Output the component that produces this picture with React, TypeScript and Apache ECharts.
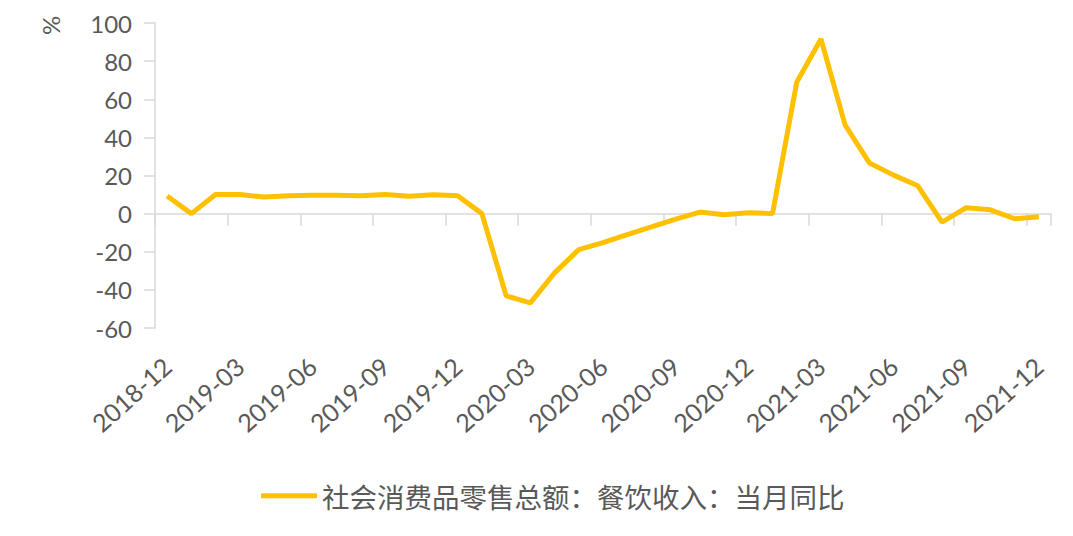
import React, { useEffect, useRef } from "react";
import * as echarts from "echarts";

const months = [
  "2018-12", "2019-01", "2019-02", "2019-03", "2019-04", "2019-05", "2019-06",
  "2019-07", "2019-08", "2019-09", "2019-10", "2019-11", "2019-12",
  "2020-01", "2020-02", "2020-03", "2020-04", "2020-05", "2020-06",
  "2020-07", "2020-08", "2020-09", "2020-10", "2020-11", "2020-12",
  "2021-01", "2021-02", "2021-03", "2021-04", "2021-05", "2021-06",
  "2021-07", "2021-08", "2021-09", "2021-10", "2021-11", "2021-12",
];

const cateringYoY = [
  9.3, 0, 10.0, 10.0, 8.7, 9.4, 9.6, 9.6, 9.4, 10.0, 9.1, 9.9, 9.4,
  0, -43.1, -46.8, -31.1, -18.9, -15.2, -11.0, -7.0, -2.9, 0.8, -0.6, 0.4,
  0, 68.9, 91.6, 46.4, 26.6, 20.2, 14.6, -4.5, 3.1, 2.0, -2.7, -1.6,
];

const seriesName = "社会消费品零售总额：餐饮收入：当月同比";
const yUnit = "%";

export default function App() {
  const ref = useRef<HTMLDivElement>(null);
  useEffect(() => {
    document.body.style.margin = "0";
    const chart = echarts.init(ref.current!, undefined, { renderer: "svg" });
    const axisGray = "#d9d9d9";
    const textGray = "#595959";
    const numFont = "Lato";
    chart.setOption({
      animation: false,
      backgroundColor: "#ffffff",
      grid: { left: 155, top: 23, width: 896, height: 305, containLabel: false },
      legend: {
        data: [seriesName],
        left: 256,
        top: 477,
        icon: "rect",
        itemWidth: 56,
        itemHeight: 5,
        itemGap: 10,
        textStyle: { fontSize: 27.5, color: textGray, fontFamily: "Noto Sans CJK SC" },
      },
      graphic: [
        {
          type: "text",
          x: 38,
          y: 35,
          rotation: Math.PI / 2,
          style: { text: yUnit, fontSize: 24, fill: textGray, fontFamily: numFont },
        },
      ],
      xAxis: [
        {
          type: "category",
          data: months,
          position: "top",
          boundaryGap: true,
          axisLine: { onZero: true, lineStyle: { color: axisGray, width: 1.5 } },
          axisTick: { show: true, inside: true, interval: 2, length: 12, lineStyle: { color: axisGray, width: 1.5 } },
          axisLabel: { show: false },
          splitLine: { show: false },
        },
        {
          type: "category",
          data: months,
          position: "bottom",
          boundaryGap: true,
          axisLine: { show: false },
          axisTick: { show: false },
          axisLabel: {
            show: true,
            interval: 2,
            rotate: 42,
            margin: 34,
            fontSize: 25,
            color: textGray,
            fontFamily: numFont,
          },
          splitLine: { show: false },
        },
      ],
      yAxis: {
        type: "value",
        min: -60,
        max: 100,
        interval: 20,
        axisLine: { show: true, lineStyle: { color: axisGray, width: 1.5 } },
        axisTick: { show: true, length: 11, lineStyle: { color: axisGray, width: 1.5 } },
        axisLabel: { fontSize: 24, color: textGray, fontFamily: numFont, margin: 23 },
        splitLine: { show: false },
      },
      series: [
        {
          name: seriesName,
          type: "line",
          xAxisIndex: 0,
          data: cateringYoY,
          symbol: "none",
          lineStyle: { color: "#FFC000", width: 5 },
          itemStyle: { color: "#FFC000" },
        },
      ],
    });
    return () => chart.dispose();
  }, []);
  return <div ref={ref} style={{ width: 1073, height: 536 }} />;
}
